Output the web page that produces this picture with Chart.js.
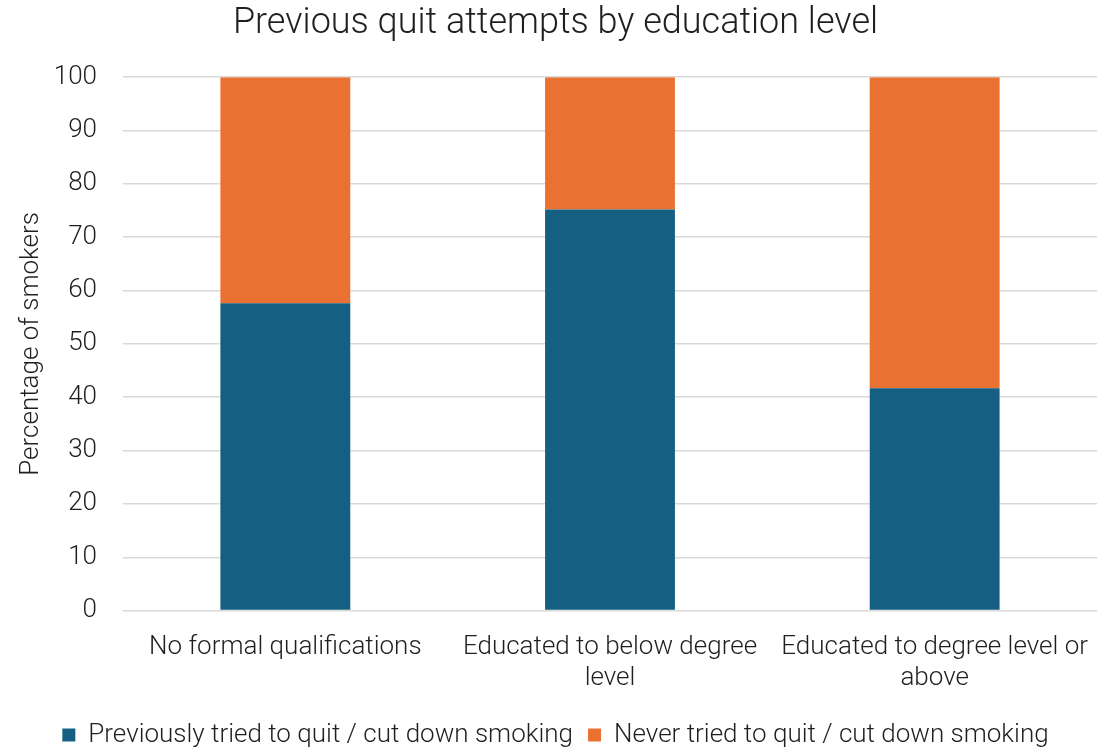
<!DOCTYPE html>
<html>
<head>
<meta charset="utf-8">
<script src="https://cdn.jsdelivr.net/npm/chart.js@4/dist/chart.umd.min.js"></script>
<style>
  html, body { margin: 0; padding: 0; background: #fff; }
  #wrap { width: 1112px; height: 748px; }
</style>
</head>
<body>
<div id="wrap"><canvas id="quit-chart"></canvas></div>
<script>
// Education groups (multi-line labels wrap like the axis text)
const categories = [
    'No formal qualifications',
    ['Educated to below degree', 'level'],
    ['Educated to degree level or', 'above']
];
const triedQuit = [57.6, 75.2, 41.7];
const neverTried = [42.4, 24.8, 58.3];
const yTicks = [0, 10, 20, 30, 40, 50, 60, 70, 80, 90, 100];

const FONT = 'Roboto, "Open Sans", sans-serif';
const textColor = '#1f1f1f';

const ctx = document.getElementById('quit-chart').getContext('2d');

new Chart(ctx, {
    type: 'bar',
    data: {
        labels: categories,
        datasets: [
            {
                label: 'Previously tried to quit / cut down smoking',
                data: triedQuit,
                backgroundColor: '#156082',
                borderWidth: 0,
                categoryPercentage: 1,
                barPercentage: 0.4
            },
            {
                label: 'Never tried to quit / cut down smoking',
                data: neverTried,
                backgroundColor: '#e97132',
                borderWidth: 0,
                categoryPercentage: 1,
                barPercentage: 0.4
            }
        ]
    },
    options: {
        responsive: true,
        maintainAspectRatio: false,
        animation: false,
        layout: { padding: { left: 14, right: 15, top: 2, bottom: -10 } },
        plugins: {
            title: {
                display: true,
                text: 'Previous quit attempts by education level',
                color: textColor,
                font: { family: FONT, size: 36, weight: '300' },
                padding: { top: 0, bottom: 32 }
            },
            legend: {
                position: 'bottom',
                labels: {
                    color: textColor,
                    font: { family: FONT, size: 26, weight: '300' },
                    boxWidth: 13,
                    boxHeight: 13,
                    padding: 15
                }
            },
            tooltip: { enabled: false }
        },
        scales: {
            x: {
                stacked: true,
                grid: { display: false },
                border: { display: false },
                // long category labels fit inside their bands, no extra side padding needed
                afterFit: (scale) => { scale.paddingLeft = 0; scale.paddingRight = 0; },
                ticks: {
                    color: textColor,
                    font: { family: FONT, size: 26, weight: '300', lineHeight: 1.2 },
                    maxRotation: 0,
                    autoSkip: false,
                    padding: 13
                }
            },
            y: {
                stacked: true,
                min: 0,
                max: 100,
                afterBuildTicks: (axis) => { axis.ticks = yTicks.map(v => ({ value: v })); },
                // keep the value axis compact: title + labels + gap
                afterFit: (scale) => { scale.width = 109; },
                grid: { color: '#d9d9d9', lineWidth: 1.5, drawTicks: false },
                border: { display: false },
                ticks: {
                    color: textColor,
                    font: { family: FONT, size: 26, weight: '300' },
                    padding: 26
                },
                title: {
                    display: true,
                    text: 'Percentage of smokers',
                    color: textColor,
                    font: { family: FONT, size: 26, weight: '300' },
                    padding: { top: 2, bottom: 7 }
                }
            }
        }
    }
});
</script>
</body>
</html>
